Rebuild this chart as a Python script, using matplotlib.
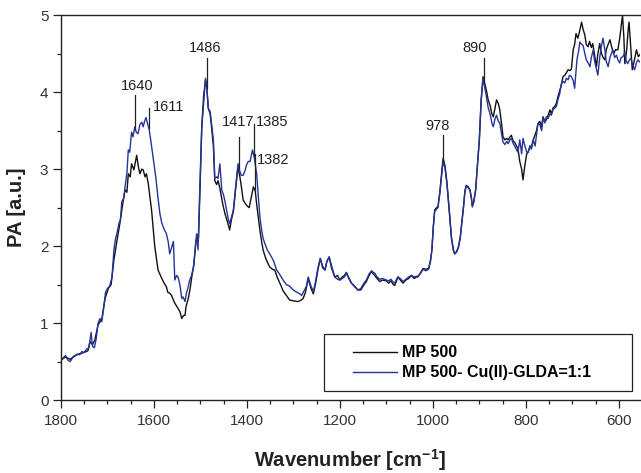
import numpy as np
import matplotlib
matplotlib.use("Agg")
import matplotlib.pyplot as plt
from matplotlib.patches import Rectangle
from matplotlib.ticker import MultipleLocator

plt.rcParams['font.family'] = ['Liberation Sans', 'DejaVu Sans']
plt.rcParams['mathtext.fontset'] = 'custom'
plt.rcParams['mathtext.rm'] = 'Liberation Sans'
plt.rcParams['mathtext.bf'] = 'Liberation Sans:bold'

# MP 500 spectrum
wn_mp = [1800, 1790, 1780, 1770, 1760, 1750, 1742, 1737, 1732, 1727, 1720, 1712, 1705, 1698,
         1692, 1686, 1680, 1673, 1667, 1662, 1658, 1655, 1651, 1648, 1643, 1637, 1633, 1630,
         1626, 1623, 1619, 1616, 1612, 1605, 1598, 1591, 1586, 1583, 1578, 1573, 1570, 1566,
         1562, 1558, 1555, 1551, 1548, 1544, 1540, 1536, 1533, 1531, 1526, 1522, 1518, 1514,
         1510, 1507, 1504, 1500, 1497, 1493, 1489, 1486, 1483, 1479, 1476, 1472, 1469, 1465,
         1462, 1458, 1452, 1447, 1441, 1437, 1433, 1429, 1424, 1419, 1415, 1412, 1408, 1403,
         1399, 1395, 1391, 1386, 1382, 1379, 1375, 1372, 1368, 1365, 1360, 1355, 1351, 1345,
         1340, 1335, 1329, 1322, 1315, 1308, 1300, 1290, 1283, 1279, 1274, 1268, 1262, 1257,
         1252, 1247, 1242, 1237, 1232, 1228, 1223, 1218, 1211, 1205, 1200, 1195, 1190, 1186,
         1180, 1175, 1168, 1161, 1155, 1148, 1143, 1137, 1132, 1128, 1125, 1120, 1114, 1108,
         1100, 1095, 1090, 1085, 1082, 1078, 1075, 1070, 1064, 1058, 1052, 1046, 1040, 1035,
         1032, 1026, 1021, 1015, 1009, 1005, 1002, 999, 996, 992, 989, 985, 981, 978,
         974, 970, 967, 963, 960, 956, 953, 949, 945, 941, 938, 934, 931, 928,
         924, 920, 917, 915, 912, 908, 904, 900, 896, 892, 888, 885, 881, 877,
         873, 870, 866, 863, 859, 856, 852, 849, 845, 841, 838, 834, 831, 827,
         824, 820, 817, 813, 809, 806, 802, 798, 795, 791, 788, 784, 780, 777,
         774, 770, 766, 763, 759, 756, 752, 748, 745, 741, 738, 734, 731, 727,
         724, 720, 716, 713, 709, 705, 702, 698, 695, 692, 688, 684, 680, 677,
         673, 670, 666, 663, 659, 656, 652, 648, 645, 641, 638, 634, 630, 627,
         623, 619, 615, 611, 607, 602, 598, 595, 592, 589, 587, 583, 580, 578,
         575, 571, 567, 562, 558, 553]
pa_mp = [0.52, 0.56, 0.53, 0.58, 0.60, 0.62, 0.64, 0.76, 0.72, 0.78, 0.98, 1.05, 1.32, 1.45,
         1.50, 1.82, 2.05, 2.30, 2.55, 2.73, 2.70, 2.94, 2.90, 3.07, 2.99, 3.18, 3.02, 2.94,
         3.00, 2.99, 2.90, 2.94, 2.81, 2.47, 1.99, 1.69, 1.62, 1.58, 1.52, 1.47, 1.40, 1.39,
         1.36, 1.30, 1.26, 1.22, 1.19, 1.15, 1.06, 1.10, 1.10, 1.21, 1.32, 1.45, 1.62, 1.75,
         2.05, 2.15, 2.10, 2.90, 3.55, 3.95, 4.16, 4.05, 3.79, 3.72, 3.55, 3.30, 2.85, 2.80,
         2.85, 2.75, 2.55, 2.42, 2.30, 2.21, 2.35, 2.45, 2.75, 3.03, 2.90, 2.78, 2.60, 2.55,
         2.52, 2.50, 2.62, 2.77, 2.72, 2.55, 2.35, 2.21, 2.05, 1.95, 1.85, 1.78, 1.73, 1.70,
         1.69, 1.60, 1.52, 1.42, 1.36, 1.30, 1.29, 1.28, 1.30, 1.32, 1.40, 1.58, 1.45, 1.38,
         1.52, 1.70, 1.84, 1.72, 1.69, 1.80, 1.86, 1.72, 1.60, 1.62, 1.56, 1.60, 1.62, 1.66,
         1.58, 1.52, 1.48, 1.43, 1.43, 1.50, 1.54, 1.62, 1.67, 1.64, 1.62, 1.58, 1.54, 1.56,
         1.55, 1.52, 1.55, 1.50, 1.49, 1.55, 1.60, 1.56, 1.52, 1.56, 1.58, 1.62, 1.58, 1.60,
         1.60, 1.66, 1.71, 1.70, 1.71, 1.82, 1.95, 2.25, 2.47, 2.50, 2.51, 2.70, 2.95, 3.14,
         3.05, 2.85, 2.64, 2.35, 2.12, 1.96, 1.90, 1.93, 1.99, 2.12, 2.29, 2.52, 2.72, 2.79,
         2.77, 2.73, 2.62, 2.51, 2.58, 2.73, 3.05, 3.38, 3.90, 4.20, 4.10, 4.03, 3.90, 3.83,
         3.72, 3.68, 3.80, 3.90, 3.85, 3.77, 3.58, 3.42, 3.38, 3.40, 3.38, 3.42, 3.44, 3.36,
         3.35, 3.30, 3.27, 3.10, 3.00, 2.86, 3.05, 3.20, 3.22, 3.30, 3.28, 3.38, 3.45, 3.50,
         3.59, 3.62, 3.55, 3.68, 3.62, 3.64, 3.70, 3.77, 3.72, 3.80, 3.81, 3.86, 3.94, 4.02,
         4.08, 4.20, 4.22, 4.25, 4.29, 4.28, 4.30, 4.55, 4.62, 4.76, 4.70, 4.80, 4.91, 4.82,
         4.74, 4.62, 4.59, 4.66, 4.58, 4.63, 4.48, 4.33, 4.50, 4.63, 4.52, 4.45, 4.42, 4.55,
         4.62, 4.68, 4.58, 4.50, 4.55, 4.55, 4.70, 4.85, 5.00, 4.70, 4.37, 4.55, 4.80, 4.91,
         4.65, 4.29, 4.40, 4.55, 4.46, 4.50]

# MP 500 - Cu(II)-GLDA=1:1 spectrum
wn_cu = [1800, 1795, 1790, 1785, 1780, 1775, 1770, 1765, 1760, 1755, 1750, 1745, 1740, 1737,
         1735, 1732, 1728, 1724, 1720, 1716, 1712, 1708, 1704, 1700, 1695, 1690, 1686, 1683,
         1679, 1675, 1672, 1669, 1665, 1662, 1658, 1655, 1652, 1648, 1645, 1641, 1638, 1634,
         1630, 1626, 1623, 1620, 1617, 1613, 1610, 1605, 1601, 1596, 1591, 1587, 1583, 1578,
         1573, 1569, 1566, 1562, 1558, 1555, 1551, 1548, 1544, 1540, 1537, 1533, 1530, 1527,
         1523, 1519, 1515, 1512, 1508, 1505, 1501, 1497, 1493, 1489, 1486, 1483, 1479, 1476,
         1472, 1469, 1465, 1462, 1458, 1454, 1450, 1447, 1443, 1440, 1437, 1433, 1429, 1424,
         1419, 1415, 1412, 1408, 1404, 1401, 1397, 1393, 1388, 1384, 1379, 1376, 1372, 1368,
         1365, 1361, 1356, 1351, 1347, 1342, 1336, 1329, 1322, 1315, 1308, 1300, 1292, 1286,
         1282, 1277, 1272, 1268, 1262, 1257, 1252, 1247, 1242, 1237, 1232, 1228, 1223, 1218,
         1211, 1205, 1200, 1195, 1190, 1186, 1180, 1175, 1168, 1161, 1155, 1148, 1143, 1137,
         1132, 1128, 1125, 1120, 1114, 1108, 1100, 1095, 1090, 1085, 1082, 1078, 1075, 1070,
         1064, 1058, 1052, 1046, 1040, 1035, 1032, 1026, 1021, 1015, 1009, 1005, 1002, 999,
         996, 992, 989, 985, 981, 978, 974, 970, 967, 963, 960, 956, 953, 949,
         945, 941, 938, 934, 931, 928, 924, 920, 917, 915, 912, 908, 904, 900,
         896, 892, 888, 885, 881, 877, 873, 870, 866, 863, 859, 856, 852, 849,
         845, 841, 838, 834, 831, 827, 824, 820, 817, 813, 809, 806, 802, 798,
         795, 791, 788, 784, 780, 777, 774, 770, 766, 763, 759, 756, 752, 748,
         745, 741, 738, 734, 731, 727, 724, 720, 716, 713, 709, 706, 702, 698,
         695, 692, 690, 686, 684, 680, 677, 673, 670, 666, 662, 659, 655, 652,
         648, 645, 641, 638, 634, 630, 627, 623, 619, 616, 613, 609, 605, 602,
         598, 595, 591, 587, 584, 581, 577, 574, 570, 566, 562, 559, 556, 553]
pa_cu = [0.52, 0.55, 0.58, 0.52, 0.50, 0.55, 0.57, 0.60, 0.59, 0.63, 0.62, 0.66, 0.68, 0.80,
         0.88, 0.70, 0.68, 0.80, 1.00, 1.06, 1.02, 1.20, 1.40, 1.45, 1.48, 1.60, 1.95, 2.08,
         2.18, 2.30, 2.34, 2.58, 2.62, 2.77, 2.95, 3.25, 3.22, 3.48, 3.42, 3.55, 3.48, 3.46,
         3.58, 3.61, 3.55, 3.62, 3.67, 3.58, 3.51, 3.30, 3.12, 2.90, 2.62, 2.42, 2.30, 2.22,
         2.16, 2.05, 1.90, 1.98, 2.06, 1.56, 1.62, 1.60, 1.50, 1.32, 1.34, 1.28, 1.39, 1.45,
         1.56, 1.62, 1.73, 1.90, 2.16, 1.95, 2.80, 3.55, 3.85, 4.18, 4.05, 3.79, 3.75, 3.59,
         3.38, 2.88, 2.90, 2.88, 3.07, 2.73, 2.66, 2.58, 2.45, 2.35, 2.29, 2.38, 2.47, 2.78,
         3.07, 2.97, 2.92, 2.92, 2.98, 3.05, 3.10, 3.10, 3.25, 3.15, 2.94, 2.70, 2.38, 2.20,
         2.10, 2.03, 1.95, 1.90, 1.86, 1.80, 1.69, 1.63, 1.56, 1.50, 1.48, 1.43, 1.40, 1.38,
         1.36, 1.42, 1.48, 1.60, 1.48, 1.41, 1.55, 1.72, 1.84, 1.74, 1.69, 1.80, 1.86, 1.75,
         1.60, 1.57, 1.56, 1.58, 1.60, 1.65, 1.57, 1.52, 1.47, 1.43, 1.45, 1.52, 1.56, 1.64,
         1.68, 1.66, 1.65, 1.60, 1.57, 1.58, 1.56, 1.55, 1.57, 1.53, 1.52, 1.57, 1.60, 1.58,
         1.54, 1.57, 1.60, 1.62, 1.60, 1.61, 1.61, 1.65, 1.70, 1.68, 1.70, 1.80, 1.95, 2.25,
         2.45, 2.48, 2.50, 2.68, 2.92, 3.10, 3.02, 2.82, 2.62, 2.33, 2.10, 1.95, 1.90, 1.92,
         1.98, 2.10, 2.28, 2.50, 2.70, 2.78, 2.76, 2.72, 2.62, 2.52, 2.57, 2.72, 3.05, 3.38,
         3.90, 4.18, 4.05, 3.95, 3.80, 3.72, 3.60, 3.55, 3.66, 3.70, 3.62, 3.60, 3.45, 3.35,
         3.32, 3.36, 3.33, 3.38, 3.40, 3.33, 3.30, 3.25, 3.22, 3.38, 3.20, 3.40, 3.30, 3.22,
         3.22, 3.30, 3.26, 3.38, 3.30, 3.45, 3.59, 3.58, 3.50, 3.66, 3.60, 3.68, 3.66, 3.72,
         3.70, 3.78, 3.79, 3.82, 3.90, 3.98, 4.10, 4.14, 4.12, 4.18, 4.16, 4.22, 4.20, 4.15,
         4.05, 4.28, 4.42, 4.55, 4.65, 4.62, 4.61, 4.50, 4.42, 4.38, 4.33, 4.45, 4.55, 4.40,
         4.30, 4.22, 4.45, 4.58, 4.70, 4.55, 4.40, 4.33, 4.45, 4.50, 4.55, 4.45, 4.48, 4.42,
         4.38, 4.45, 4.46, 4.52, 4.40, 4.37, 4.42, 4.44, 4.35, 4.29, 4.38, 4.42, 4.40, 4.38]

# band assignments marked on the plot
peak_labels = ['1640', '1611', '1486', '1417', '1385', '1382', '978', '890']
peak_wn = [1640, 1611, 1486, 1417, 1385, 1382, 978, 890]

fig = plt.figure(figsize=(6.41, 4.73), dpi=100)
ax = fig.add_axes([0.095, 0.154, 0.903, 0.814])

ax.plot(wn_mp, pa_mp, color='#111111', lw=1.0, label='MP 500')
ax.plot(wn_cu, pa_cu, color='#26349a', lw=1.0, label='MP 500- Cu(II)-GLDA=1:1')

# label layout: line top, text x, text y, alignment, curve the line drops to
layout = {
    '1640': (3.96, 1636, 4.08, 'center', 'cu'),
    '1611': (3.80, 1603, 3.81, 'left', 'cu'),
    '1486': (4.44, 1489, 4.57, 'center', 'cu'),
    '1417': (3.42, 1418, 3.61, 'center', 'cu'),
    '1385': (3.58, 1381, 3.61, 'left', 'cu'),
    '1382': (3.20, 1379, 3.12, 'left', 'mp'),
    '978': (3.44, 990, 3.56, 'center', 'cu'),
    '890': (4.44, 910, 4.57, 'center', 'cu'),
}
curves = {'mp': (wn_mp[::-1], pa_mp[::-1]), 'cu': (wn_cu[::-1], pa_cu[::-1])}
for lab, w in zip(peak_labels, peak_wn):
    top, tx, ty, ha, src = layout[lab]
    bottom = np.interp(w, *curves[src])
    ax.plot([w, w], [bottom, top], color='#222222', lw=0.9)
    ax.text(tx, ty, lab, ha=ha, va='center', fontsize=10.5, color='#222222')

ax.set_xlim(1800, 555)
ax.set_ylim(0, 5)
ax.xaxis.set_major_locator(MultipleLocator(200))
ax.xaxis.set_minor_locator(MultipleLocator(50))
ax.yaxis.set_major_locator(MultipleLocator(1))
ax.yaxis.set_minor_locator(MultipleLocator(0.5))
ax.tick_params(which='major', direction='out', length=6, width=0.9, labelsize=11,
               labelcolor='#333333', color='#222222')
ax.tick_params(which='minor', direction='out', length=3, width=0.9, color='#222222')
ax.tick_params(axis='x', pad=4)
ax.tick_params(axis='y', pad=3)
ax.spines['right'].set_visible(False)
for s in ['left', 'bottom', 'top']:
    ax.spines[s].set_linewidth(1.0)
    ax.spines[s].set_color('#222222')

ax.set_xlabel('Wavenumber [cm$^{\\mathbf{-1}}$]', fontsize=14.5, fontweight='bold',
              labelpad=14, color='#222222')
ax.set_ylabel('PA [a.u.]', fontsize=14.5, fontweight='bold', labelpad=10, color='#222222')

# legend entries without their own frame, boxed by a separate rectangle
ax.add_patch(Rectangle((0.454, 0.023), 0.532, 0.148, transform=ax.transAxes,
                       facecolor='white', edgecolor='#222222', lw=0.9, zorder=4))
leg = ax.legend(loc='upper left', bbox_to_anchor=(0.504, 0.142),
                prop={'weight': 'bold', 'size': 11.5}, frameon=False,
                handlelength=2.75, handletextpad=0.35, borderpad=0.0,
                borderaxespad=0.0, labelspacing=0.3)
leg.set_zorder(5)

fig.savefig('out.png', dpi=100)
